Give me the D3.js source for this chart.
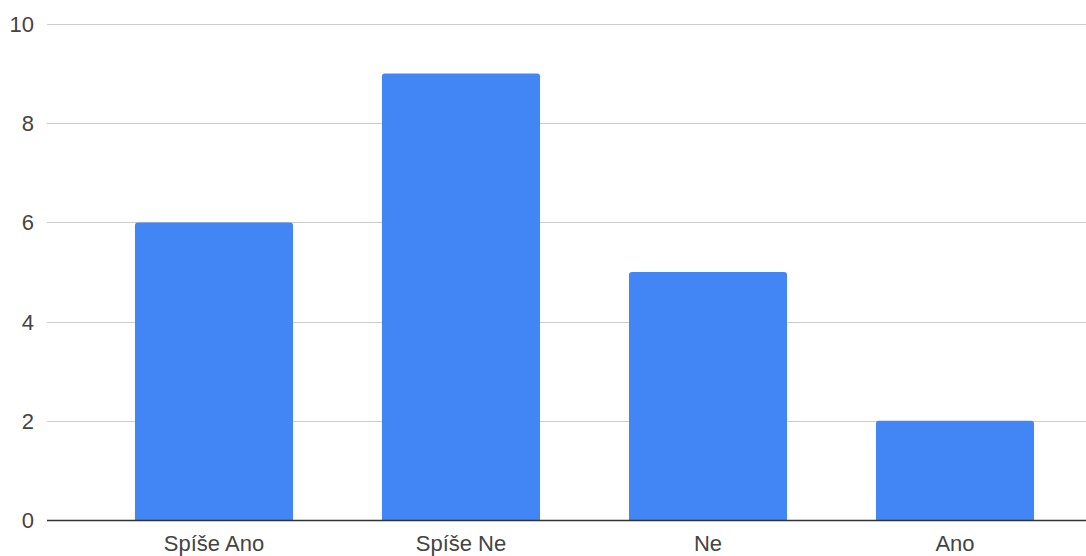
<!DOCTYPE html>
<html><head><meta charset="utf-8">
<script src="https://cdn.jsdelivr.net/npm/d3@7"></script>
<style>body{margin:0;background:#fff;}svg{display:block;font-family:"Liberation Sans",Arial,sans-serif;}</style>
</head><body>
<svg id="c" width="1086" height="556"></svg>
<script>
const categories = ["Spíše Ano", "Spíše Ne", "Ne", "Ano"];
const values = [6, 9, 5, 2];
const yTicks = [0, 2, 4, 6, 8, 10];

const svg = d3.select("#c");
const x = d3.scaleBand().domain(categories).range([90.5, 1078.5]).paddingInner(0.36).paddingOuter(0.18);
const y = d3.scaleLinear().domain([0, 10]).range([520, 24]);

// gridlines
svg.append("g").selectAll("line").data(yTicks.filter(d => d !== 0)).join("line")
  .attr("x1", 47).attr("x2", 1086)
  .attr("y1", d => Math.round(y(d)) + 0.5).attr("y2", d => Math.round(y(d)) + 0.5)
  .attr("stroke", "#cccccc").attr("stroke-width", 1);

// y tick labels
svg.append("g").selectAll("text").data(yTicks).join("text")
  .attr("x", 34).attr("y", d => y(d)).attr("dy", "0.36em")
  .attr("text-anchor", "end").attr("font-size", 22).attr("fill", "#444")
  .text(d => d);

// bars with rounded top corners
const r = 3;
svg.append("g").selectAll("path").data(values).join("path")
  .attr("fill", "#4285f4")
  .attr("d", (d, i) => {
    const x0 = x(categories[i]), w = x.bandwidth(), y0 = y(d), yb = y(0);
    return `M${x0},${yb}V${y0 + r}Q${x0},${y0} ${x0 + r},${y0}H${x0 + w - r}Q${x0 + w},${y0} ${x0 + w},${y0 + r}V${yb}Z`;
  });

// baseline
svg.append("line").attr("x1", 47).attr("x2", 1086).attr("y1", 520.5).attr("y2", 520.5)
  .attr("stroke", "#333").attr("stroke-width", 1.5);

// x labels
svg.append("g").selectAll("text").data(categories).join("text")
  .attr("x", d => x(d) + x.bandwidth() / 2).attr("y", 551)
  .attr("text-anchor", "middle").attr("font-size", 22).attr("fill", "#444")
  .text(d => d);
</script>
</body></html>
